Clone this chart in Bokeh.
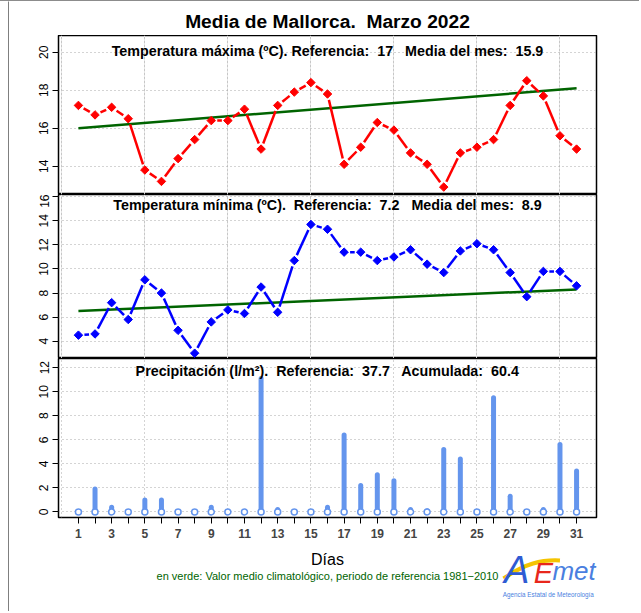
import math
import re
from bokeh.plotting import figure
from bokeh.layouts import column, row
from bokeh.models import FixedTicker, Label, Grid, CDSView, BooleanFilter, ColumnDataSource, Range1d
from bokeh.embed import file_html
from bokeh.resources import INLINE

# ---------------- data ----------------
days = list(range(1, 32))
tmax = [17.2, 16.7, 17.1, 16.5, 13.8, 13.2, 14.4, 15.4, 16.4, 16.4,
        17.0, 14.9, 17.2, 17.9, 18.4, 17.8, 14.1, 15.0, 16.3, 15.9,
        14.7, 14.1, 12.9, 14.7, 15.0, 15.4, 17.2, 18.5, 17.7, 15.6, 14.9]
tmin = [4.5, 4.6, 7.2, 5.8, 9.1, 8.0, 4.9, 3.0, 5.6, 6.6,
        6.3, 8.5, 6.4, 10.7, 13.7, 13.3, 11.4, 11.4, 10.7, 11.0,
        11.6, 10.4, 9.7, 11.5, 12.1, 11.6, 9.7, 7.7, 9.8, 9.8, 8.6]
prec = [0.0, 1.9, 0.4, 0.0, 1.0, 1.0, 0.0, 0.0, 0.4, 0.0,
        0.0, 11.1, 0.2, 0.0, 0.0, 0.4, 6.4, 2.2, 3.1, 2.6,
        0.2, 0.1, 5.2, 4.4, 0.0, 9.5, 1.3, 0.0, 0.2, 5.6, 3.4]
clim_days = [1, 31]
clim_tmax = [16.0, 18.1]
clim_tmin = [6.5, 8.3]

main_title = "Media de Mallorca.  Marzo 2022"
title_max = "Temperatura máxima (ºC). Referencia:  17   Media del mes:  15.9"
title_min = "Temperatura mínima (ºC).  Referencia:  7.2   Media del mes:  8.9"
title_prec = "Precipitación (l/m²).  Referencia:  37.7   Acumulada:  60.4"
xlabel = "Días"
footer = "en verde: Valor medio climatológico, periodo de referencia 1981\u22122010"
logo_sub = "Agencia Estatal de Meteorología"

yticks_max = [12, 14, 16, 18, 20]
yticks_min = [4, 6, 8, 10, 12, 14, 16]
yticks_prec = [0, 2, 4, 6, 8, 10, 12]
xgrid_ticks = [0, 5, 10, 15, 20, 25, 30]
xlabels = {d: (str(d) if d % 2 == 1 else "") for d in days}

# ---------------- style ----------------
FONT = "Liberation Sans"
FW = 538
BL = 49   # left border (after the 9px strip)
BR = 43
XR = (-0.2, 32.2)
GREEN = "#006400"
BAR = "#6495ED"
GRIDC = "#A8A8A8"


def keep_spaces(s):
    # keep runs of spaces visible in SVG text
    return re.sub(r" {2,}", lambda m: "\u00a0" * (len(m.group(0)) - 1) + " ", s)


def make_fig(yr, fh, top, bottom, yticks, with_xaxis=False):
    p = figure(frame_width=FW, frame_height=fh,
               x_range=Range1d(*XR), y_range=Range1d(*yr),
               output_backend="svg", toolbar_location=None, tools="",
               min_border_left=BL, min_border_right=BR,
               min_border_top=top, min_border_bottom=bottom,
               x_axis_location="below" if with_xaxis else None)
    p.outline_line_color = "black"
    p.outline_line_width = 1.5
    p.background_fill_color = "white"
    p.border_fill_color = "white"
    ax = p.yaxis[0]
    ax.ticker = FixedTicker(ticks=yticks)
    ax.major_label_orientation = "vertical"
    ax.major_tick_out = 6
    ax.major_tick_in = 0
    ax.minor_tick_out = 0
    ax.minor_tick_in = 0
    ax.axis_line_color = None
    ax.major_tick_line_color = "black"
    ax.major_label_text_font = FONT
    ax.major_label_text_font_size = "12px"
    ax.major_label_text_color = "black"
    ax.major_label_standoff = 4
    p.ygrid.ticker = FixedTicker(ticks=yticks)
    p.ygrid.grid_line_color = GRIDC
    p.ygrid.grid_line_dash = "1 3"
    p.ygrid.grid_line_width = 1
    if with_xaxis:
        p.xgrid.ticker = FixedTicker(ticks=xgrid_ticks)
        p.xgrid.grid_line_color = GRIDC
        p.xgrid.grid_line_dash = "1 3"
        xa = p.xaxis[0]
        xa.ticker = FixedTicker(ticks=days)
        xa.major_label_overrides = xlabels
        xa.major_tick_out = 6
        xa.major_tick_in = 0
        xa.minor_tick_out = 0
        xa.minor_tick_in = 0
        xa.axis_line_color = None
        xa.major_label_text_font = FONT
        xa.major_label_text_font_size = "12px"
        xa.major_label_text_font_style = "bold"
        xa.major_label_standoff = 5
    else:
        p.add_layout(Grid(dimension=0, ticker=FixedTicker(ticks=xgrid_ticks),
                          grid_line_color=GRIDC, grid_line_dash="1 3"))
    return p


def blank_fig(fh):
    p = figure(frame_width=FW, frame_height=fh,
               x_range=Range1d(*XR), y_range=Range1d(0, fh),
               output_backend="svg", toolbar_location=None, tools="",
               min_border_left=BL, min_border_right=BR,
               min_border_top=0, min_border_bottom=0,
               x_axis_location=None, y_axis_location=None)
    p.outline_line_color = None
    p.grid.visible = False
    p.background_fill_color = "white"
    p.border_fill_color = "white"
    return p


def gapped(x, y, p, gap=6.0):
    sx = p.frame_width / (p.x_range.end - p.x_range.start)
    sy = p.frame_height / (p.y_range.end - p.y_range.start)
    x0, y0, x1, y1 = [], [], [], []
    for i in range(len(x) - 1):
        dx = x[i + 1] - x[i]
        dy = y[i + 1] - y[i]
        L = math.hypot(dx * sx, dy * sy)
        if L <= 2 * gap:
            continue
        f = gap / L
        x0.append(x[i] + f * dx)
        y0.append(y[i] + f * dy)
        x1.append(x[i + 1] - f * dx)
        y1.append(y[i + 1] - f * dy)
    return dict(x0=x0, y0=y0, x1=x1, y1=y1)


def add_label(p, x, y, text, size, color="black", style="normal"):
    p.add_layout(Label(x=x, y=y, text=keep_spaces(text), text_align="center",
                       text_baseline="middle", text_font=FONT, text_font_style=style,
                       text_font_size=size, text_color=color))


# ---------------- title strip ----------------
p0 = blank_fig(34)
add_label(p0, 16, 34 - 19.6, main_title, "19.2px", style="bold")

# ---------------- top panel: Tmax ----------------
p1 = make_fig((12.51, 20.88), 159, 0, 0, yticks_max)
p1.line(clim_days, clim_tmax, line_color=GREEN, line_width=2.5)
p1.segment(source=ColumnDataSource(gapped(days, tmax, p1)), x0="x0", y0="y0", x1="x1", y1="y1",
           line_color="red", line_width=2.5)
p1.scatter(days, tmax, marker="square", angle=math.pi / 4, size=6, color="red")
add_label(p1, 16, 20.09, title_max, "14.3px", style="bold")

# ---------------- middle panel: Tmin ----------------
p2 = make_fig((2.56, 16.19), 164, 0, 0, yticks_min)
p2.line(clim_days, clim_tmin, line_color=GREEN, line_width=2.5)
p2.segment(source=ColumnDataSource(gapped(days, tmin, p2)), x0="x0", y0="y0", x1="x1", y1="y1",
           line_color="blue", line_width=2.5)
p2.scatter(days, tmin, marker="square", angle=math.pi / 4, size=6, color="blue")
add_label(p2, 16, 15.28, title_min, "14.3px", style="bold")

# ---------------- bottom panel: precipitation ----------------
p3 = make_fig((-0.46, 12.76), 159, 0, 28, yticks_prec, with_xaxis=True)
src = ColumnDataSource(dict(day=days, prec=prec, base=[0] * len(days)))
view = CDSView(filter=BooleanFilter([v > 0 for v in prec]))
p3.segment(x0="day", y0="base", x1="day", y1="prec", source=src, view=view,
           line_color=BAR, line_width=5, line_cap="round")
p3.scatter(x="day", y="base", source=src, marker="circle", size=6,
           fill_color="white", line_color=BAR, line_width=1.5)
add_label(p3, 16, 11.76, title_prec, "14.3px", style="bold")

# ---------------- footer strip ----------------
FH = 66
p4 = blank_fig(FH)
add_label(p4, 16, FH - 14, xlabel, "16px")
add_label(p4, 16, FH - 30, footer, "11px", color=GREEN)
# logo (approximation)
p4.bezier(x0=[26.6], y0=[FH - 33], x1=[30.0], y1=[FH - 15],
          cx0=[27.9], cy0=[FH - 18], cx1=[28.9], cy1=[FH - 14],
          line_color="#F5C400", line_width=4)
add_label(p4, 27.4, FH - 24, "A", "38px", color="#2F5BD3", style="italic")
add_label(p4, 29.0, FH - 27, "E", "29px", color="#E8271C", style="italic")
add_label(p4, 30.85, FH - 25, "met", "26px", color="#4A7FE0", style="italic")
add_label(p4, 29.3, FH - 49, logo_sub, "6.3px", color="#4A7FE0")

# ---------------- left page edge line ----------------
H_TOTAL = 34 + 159 + 164 + 159 + 28 + FH
strip = figure(frame_width=1, frame_height=H_TOTAL,
               output_backend="svg", toolbar_location=None, tools="",
               min_border_left=8, min_border_right=0, min_border_top=0, min_border_bottom=0,
               x_axis_location=None, y_axis_location=None)
strip.outline_line_color = None
strip.grid.visible = False
strip.background_fill_color = "black"
strip.border_fill_color = "white"

layout = row(strip, column(p0, p1, p2, p3, p4, spacing=0), spacing=0,
             styles={"border-top": "1px solid #8C8C8C"})
open("out.html", "w").write(file_html(layout, INLINE))
